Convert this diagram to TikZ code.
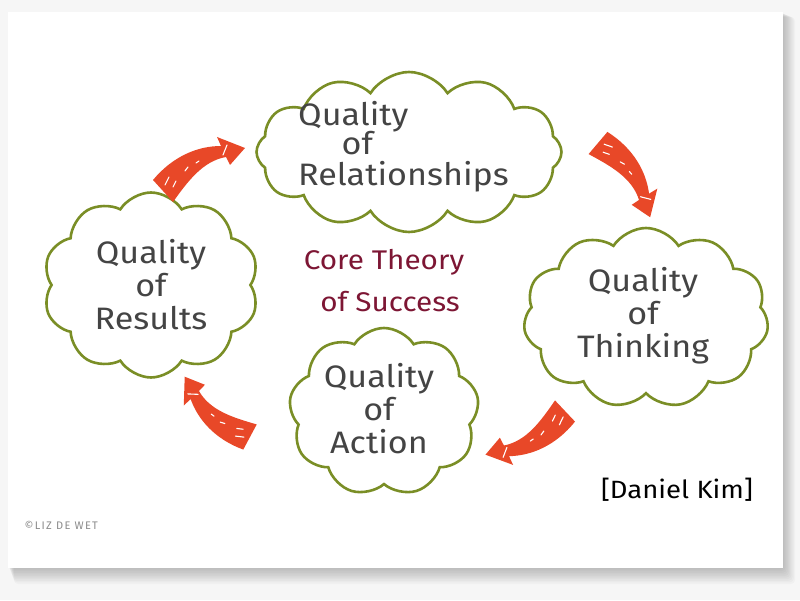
\documentclass[tikz,border=0pt]{standalone}
\usepackage{fontspec}
\setmainfont{Fira Sans}
\newfontfamily\handfont[FakeStretch=1.1]{Fira Sans}
\usetikzlibrary{shapes.symbols}
\definecolor{cloudgreen}{RGB}{122,142,38}
\definecolor{arrowred}{RGB}{232,72,40}
\definecolor{inkgrey}{RGB}{68,68,68}
\definecolor{coretxt}{RGB}{125,22,52}
\definecolor{bggrey}{RGB}{246,246,246}
\begin{document}
\begin{tikzpicture}[x=1pt,y=1pt,
  cloudbox/.style={cloud, draw=cloudgreen, line width=2.6pt, fill=white,
    cloud puffs=#1, cloud puff arc=115, inner sep=0pt},
  cloudtext/.style={text=inkgrey, font=\handfont\fontsize{31}{33}\selectfont, inner sep=0pt},
  coretext/.style={text=coretxt, font=\handfont\fontsize{27}{30}\selectfont},
  harrow/.pic={\fill[arrowred] (10,-11) -- (-10,11) .. controls (10,35) and (35,45) .. (58,45)
      -- (54,54) -- (82,43) -- (67,26) -- (63,34) .. controls (40,30) and (25,10) .. (10,-11) -- cycle;
    \draw[white, line width=1.1pt, line cap=round] (2,6) -- (6,14) (10,4) -- (13,10) (22,20) -- (25,24)
      (33,28) -- (36,30) (60,36) -- (64,46);}
]
\useasboundingbox (0,0) rectangle (800,600);
\fill[bggrey] (0,0) rectangle (800,600);
% shadow
\foreach \i in {1,...,10}{
  \fill[black, opacity=0.025, rounded corners=4pt] (8+0.6*\i,32-1.6*\i) rectangle (783+1.2*\i,588-0.5*\i);
}
\fill[white] (8,32) rectangle (783,588);

% clouds
\node[cloudbox=12, aspect=2, minimum width=305pt, minimum height=160pt] (rel) at (409,448) {};
\node[cloudtext, align=left, anchor=north west] (relt) at (298,499)
  {Quality\\[-4pt]\hspace{1.4em}of\\[-2pt]Relationships};
\node[cloudbox=10, aspect=1.2, minimum width=216pt, minimum height=185pt] (res) at (151,315) {};
\node[cloudtext, align=center] (rest) at (res) {Quality\\of\\Results};
\node[cloudbox=11, aspect=1.4, minimum width=245pt, minimum height=180pt] (thi) at (646,282) {};
\node[cloudtext, align=center] (thit) at ([shift={(-3,2)}]thi.center) {Quality\\of\\Thinking};
\node[cloudbox=9, aspect=1.2, minimum width=190pt, minimum height=168pt] (act) at (384,188) {};
\node[cloudtext, align=center] (actt) at ([shift={(-5,3)}]act.center) {Quality\\of\\Action};

% centre title
\node[coretext] (core1) at (384,338) {Core Theory};
\node[coretext] (core2) at (390,298) {of Success};

% arrows
\pic (a1) at (163,409) {harrow};
\pic[rotate=-82.6, scale=0.98] (a2) at (598,457) {harrow};
\pic[rotate=181.1, scale=0.98] (a3) at (565,189) {harrow};
\pic[rotate=109.6, scale=0.96] (a4) at (250,163) {harrow};

% credits
\node[font=\handfont\fontsize{25}{28}\selectfont, text=black] (kim) at (677,110) {[Daniel Kim]};
\node[font=\fontsize{11}{13}\selectfont\addfontfeatures{LetterSpace=12}, text=black!45, anchor=west] (liz) at (21,75) {\textcopyright LIZ DE WET};
\end{tikzpicture}
\end{document}
